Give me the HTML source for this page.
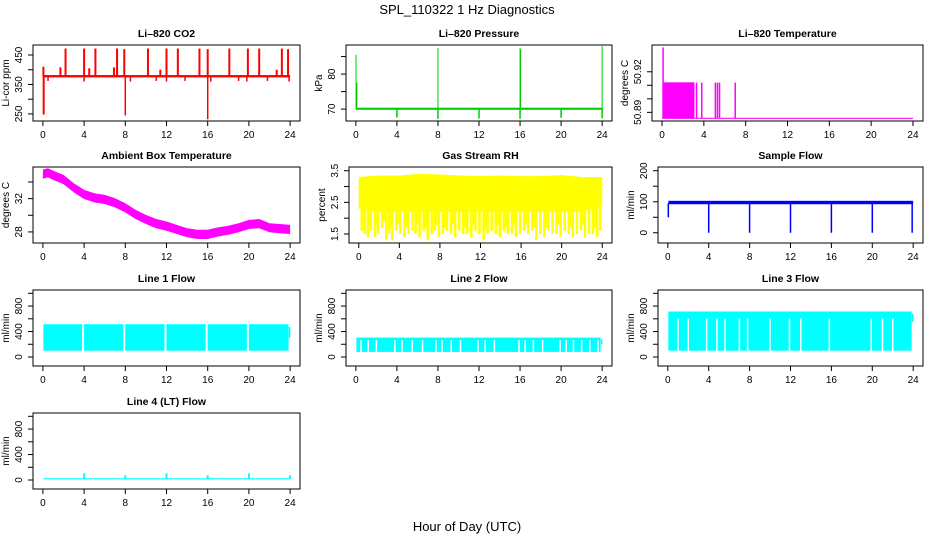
<!DOCTYPE html>
<html><head><meta charset="utf-8"><style>
html,body{margin:0;padding:0;background:#fff;}
svg{display:block;font-family:"Liberation Sans",Arial,sans-serif;}
</style></head><body>
<svg id="fig" width="936" height="540" viewBox="0 0 936 540" xmlns="http://www.w3.org/2000/svg">
<rect x="0" y="0" width="936" height="540" fill="#fff"/>
<text x="467" y="14" font-size="13" text-anchor="middle">SPL_110322  1 Hz Diagnostics</text>
<text x="467" y="531" font-size="13" text-anchor="middle">Hour of Day (UTC)</text>
</svg>
<script>
const NS="http://www.w3.org/2000/svg";
const svg=document.getElementById('fig');
const xTicks=[0,4,8,12,16,20,24];
// CO2
const co2BaseHours=[0,24];
const co2BaseValues=[378,378];
const co2SpikeHours=[0.05,1.7,2.2,4.0,4.5,5.1,6.9,7.2,7.9,10.2,11.4,12.0,13.1,15.2,16.0,18.1,19.9,21.0,22.7,23.2,23.8];
const co2SpikeValues=[410,408,472,472,405,472,408,472,470,472,400,472,472,472,470,472,472,472,400,472,470];
const co2DipHours=[0.05,0.1,0.5,4.0,8.0,8.5,11.0,12.0,13.8,16.0,16.3,19.0,19.8,21.8,23.9];
const co2DipValues=[248,248,362,360,245,360,362,360,362,232,360,362,360,362,360];
// Pressure
const presBaseHours=[0,24];
const presBaseValues=[70.1,70.1];
const presSpikeHours=[0.02,0.1,8.0,16.0,16.05,24.0];
const presSpikeValues=[85.5,77.5,87.5,87.5,87,88];
const presDipHours=[4,8,12,16,20,24];
const presDipValues=[67.6,67.2,67.3,67.2,67.5,67.4];
// Li-820 temperature
const tempBaseHours=[0,24];
const tempBaseValues=[50.8856,50.8856];
const tempBlockHours=[0.1,3.1];
const tempBlockValue=[50.9122];
const tempBarHours=[0.1,3.3,3.8,5.1,5.3,5.5,7.0];
const tempBarValues=[50.938,50.912,50.912,50.912,50.912,50.912,50.912];
// Ambient
const ambHours=[0,0.5,1,2,3,4,5,6,7,8,9,10,11,12,13,14,15,16,17,18,19,20,21,22,23,24];
const ambValues=[34.95,35.1,34.8,34.3,33.3,32.5,32.1,31.9,31.5,30.9,30.1,29.5,29.0,28.7,28.3,27.9,27.7,27.7,28.0,28.2,28.5,28.9,29.0,28.5,28.4,28.3];
const ambSpread=[0.55];
// RH
const rhHours=[0,2,4,6,8,10,12,14,16,18,20,22,24];
const rhUpper=[3.3,3.35,3.35,3.4,3.38,3.35,3.33,3.35,3.33,3.33,3.36,3.3,3.3];
const rhDense=[2.3,2.2,2.2,2.2,2.2,2.2,2.2,2.2,2.2,2.2,2.2,2.2,2.4];
const rhLowHours=[0.3,0.45,0.6,0.9,1.05,1.2,1.6,1.75,1.9,2.3,2.5,2.7,3.0,3.15,3.3,3.7,3.9,4.1,4.5,4.7,4.9,5.3,5.6,5.8,6.0,6.4,6.6,6.8,7.2,7.5,7.7,7.9,8.3,8.5,8.7,9.1,9.3,9.5,9.9,10.3,10.5,10.7,11.1,11.3,11.5,11.9,12.3,12.5,12.7,13.1,13.5,13.7,13.9,14.3,14.5,14.7,15.1,15.3,15.5,15.9,16.3,16.5,16.7,17.1,17.3,17.5,17.9,18.3,18.5,18.7,19.1,19.5,19.7,19.9,20.3,20.7,20.9,21.1,21.5,21.9,22.1,22.3,22.7,23.1,23.3,23.5,23.8];
const rhLowValues=[1.6,1.8,1.5,1.4,1.7,1.6,1.4,1.8,1.5,1.7,1.9,1.3,1.5,1.7,1.3,1.6,1.8,1.5,1.4,1.7,1.5,1.6,1.5,1.8,1.4,1.6,1.7,1.3,1.5,1.6,1.8,1.4,1.5,1.7,1.6,1.5,1.8,1.4,1.6,1.5,1.7,1.5,1.4,1.8,1.6,1.5,1.3,1.7,1.5,1.6,1.5,1.8,1.4,1.6,1.7,1.5,1.5,1.8,1.4,1.5,1.6,1.8,1.5,1.6,1.7,1.3,1.5,1.4,1.7,1.6,1.5,1.5,1.8,1.4,1.6,1.5,1.7,1.4,1.5,1.6,1.8,1.4,1.5,1.5,1.7,1.4,1.6];
// Sample flow
const sfHours=[0.05,24];
const sfLower=[92,92];
const sfUpper=[103,103];
const sfDipHours=[0.05,4,8,12,16,20,23.9];
const sfDipValues=[50,0,0,0,0,0,0];
// Line flows
const l1Range=[0.05,23.85];
const l1Lower=[100];
const l1Upper=[515];
const l1GapHours=[3.9,7.9,11.9,15.9,19.9];
const l2Range=[0.05,23.85];
const l2Lower=[80];
const l2Upper=[305];
const l2GapHours=[0.5,1.2,2.0,3.8,4.5,5.5,6.5,7.8,8.4,9.3,10.2,11.9,12.6,13.5,15.9,16.5,17.3,18.2,19.9,20.5,21.2,22.0,22.8,23.6];
const l3Range=[0.05,23.85];
const l3Lower=[100];
const l3Upper=[715];
const l3GapHours=[1.0,2.0,3.8,4.8,5.6,7.0,7.8,10.0,11.9,13.0,15.8,19.9,21.0,22.0];
const l4Range=[0.05,24];
const l4Lower=[10];
const l4Upper=[28];
const l4SpikeHours=[4,8,12,16,20,24];
const l4SpikeValues=[105,75,105,75,105,75];

function add(parent,tag,attrs,name,text){
  const el=document.createElementNS(NS,tag);
  for(const k in attrs) el.setAttribute(k,attrs[k]);
  
  
  if(text!==undefined) el.textContent=text;
  parent.appendChild(el);
  return el;
}
function panel(o){
  const g=add(svg,'g',{},o.name);
  const L=o.x0,R=o.x1,T=o.y0,B=o.y0+76;
  const span=(R-L)/1.08;
  const sx=h=>L+0.04*span+h/24*span;
  const sy=v=>B-(v-o.ymin)/(o.ymax-o.ymin)*(B-T);
  const plot=add(g,'g',{},'plot-area');
  add(g,'text',{x:(L+R)/2,y:T-8,'font-size':10.5,'font-weight':'bold','text-anchor':'middle'},'panel-title',o.title);
  add(g,'rect',{x:L,y:T,width:R-L,height:B-T,fill:'none',stroke:'#000','stroke-width':1},'plot-box');
  add(g,'line',{x1:sx(0),x2:sx(24),y1:B,y2:B,stroke:'#000'},'x-axis-line');
  xTicks.forEach(t=>{
    add(g,'line',{x1:sx(t),x2:sx(t),y1:B,y2:B+5,stroke:'#000'},'x-tick');
    add(g,'text',{x:sx(t),y:B+17,'font-size':10,'text-anchor':'middle'},'x-tick-label',String(t));
  });
  add(g,'line',{x1:L,x2:L,y1:sy(o.yt[0]),y2:sy(o.yt[o.yt.length-1]),stroke:'#000'},'y-axis-line');
  o.yt.forEach(t=>{
    add(g,'line',{x1:L-5,x2:L,y1:sy(t),y2:sy(t),stroke:'#000'},'y-tick');
  });
  o.yl.forEach((t,i)=>{
    const y=sy(t);
    add(g,'text',{x:L-11,y:y,'font-size':10,'text-anchor':'middle',transform:`rotate(-90 ${L-11} ${y})`},'y-tick-label',o.ylt[i]);
  });
  const yc=(T+B)/2, xl=L-24;
  add(g,'text',{x:xl,y:yc,'font-size':10,'text-anchor':'middle',transform:`rotate(-90 ${xl} ${yc})`},'y-axis-title',o.ylab);
  return {g:plot,sx,sy};
}
function vbar(p,h,v1,v2,c,w,name){
  const x=p.sx(h);const a=p.sy(v1),b=p.sy(v2);
  add(p.g,'rect',{x:x-w/2,y:Math.min(a,b),width:w,height:Math.max(1,Math.abs(a-b)),fill:c},name);
}
function band(p,h1,h2,lo,hi,c,name){
  const a=p.sy(lo),b=p.sy(hi);
  add(p.g,'rect',{x:p.sx(h1),y:Math.min(a,b),width:p.sx(h2)-p.sx(h1),height:Math.abs(a-b),fill:c},name);
}
function gaps(p,list,lo,hi,w,name){
  list.forEach(h=>vbar(p,h,lo-5,hi,'#fff',w,name));
}

// Row 1
let p=panel({name:'co2-panel',title:'Li\u2013820 CO2',ylab:'Li-cor ppm',x0:33,x1:300,y0:45,ymin:226,ymax:484,yt:[250,300,350,400,450],yl:[250,350,450],ylt:['250','350','450']});
band(p,co2BaseHours[0],co2BaseHours[1],co2BaseValues[0]-4,co2BaseValues[1]+4,'#f00','co2-baseline');
co2SpikeHours.forEach((h,i)=>vbar(p,h,co2BaseValues[0],co2SpikeValues[i],'#f00',2,'co2-spike'));
co2DipHours.forEach((h,i)=>vbar(p,h,co2BaseValues[0],co2DipValues[i],'#f00',1.5,'co2-dip'));

p=panel({name:'pressure-panel',title:'Li\u2013820 Pressure',ylab:'kPa',x0:346,x1:612,y0:45,ymin:66.6,ymax:88.3,yt:[70,75,80,85],yl:[70,80],ylt:['70','80']});
band(p,presBaseHours[0],presBaseHours[1],presBaseValues[0]-0.3,presBaseValues[1]+0.3,'#00cd00','pressure-baseline');
presSpikeHours.forEach((h,i)=>vbar(p,h,presBaseValues[0],presSpikeValues[i],'#00cd00',1,'pressure-spike'));
presDipHours.forEach((h,i)=>vbar(p,h,presBaseValues[0],presDipValues[i],'#00cd00',1.5,'pressure-dip'));

p=panel({name:'li820-temperature-panel',title:'Li\u2013820 Temperature',ylab:'degrees C',x0:652,x1:923,y0:45,ymin:50.8836,ymax:50.9398,yt:[50.89,50.90,50.91,50.92],yl:[50.89,50.92],ylt:['50.89','50.92']});
band(p,tempBaseHours[0],tempBaseHours[1],tempBaseValues[0]-0.0004,tempBaseValues[1]+0.0004,'#f0f','temperature-baseline');
band(p,tempBlockHours[0],tempBlockHours[1],tempBaseValues[0],tempBlockValue[0],'#f0f','temperature-block');
tempBarHours.forEach((h,i)=>vbar(p,h,tempBaseValues[0],tempBarValues[i],'#f0f',1.5,'temperature-bar'));

// Row 2
p=panel({name:'ambient-temperature-panel',title:'Ambient Box Temperature',ylab:'degrees C',x0:33,x1:300,y0:167,ymin:26.67,ymax:35.8,yt:[28,30,32,34],yl:[28,32],ylt:['28','32']});
{
  const up=ambHours.map((h,i)=>`${p.sx(h).toFixed(1)},${p.sy(ambValues[i]+ambSpread[0]).toFixed(1)}`);
  const dn=ambHours.map((h,i)=>`${p.sx(h).toFixed(1)},${p.sy(ambValues[i]-ambSpread[0]).toFixed(1)}`).reverse();
  add(p.g,'polygon',{points:up.concat(dn).join(' '),fill:'#f0f'},'ambient-temperature-band');
}
p=panel({name:'rh-panel',title:'Gas Stream RH',ylab:'percent',x0:349,x1:612,y0:167,ymin:1.216,ymax:3.617,yt:[1.5,2,2.5,3,3.5],yl:[1.5,2.5,3.5],ylt:['1.5','2.5','3.5']});
{
  const up=rhHours.map((h,i)=>`${p.sx(h).toFixed(1)},${p.sy(rhUpper[i]).toFixed(1)}`);
  const dn=rhHours.map((h,i)=>`${p.sx(h).toFixed(1)},${p.sy(rhDense[i]).toFixed(1)}`).reverse();
  add(p.g,'polygon',{points:up.concat(dn).join(' '),fill:'#ff0'},'rh-band');
  rhLowHours.forEach((h,i)=>vbar(p,h,2.4,rhLowValues[i],'#ff0',2.5,'rh-low-spike'));
}
p=panel({name:'sample-flow-panel',title:'Sample Flow',ylab:'ml/min',x0:658,x1:923,y0:167,ymin:-33,ymax:212,yt:[0,50,100,150,200],yl:[0,100,200],ylt:['0','100','200']});
band(p,sfHours[0],sfHours[1],sfLower[0],sfUpper[1],'#00f','sample-flow-band');
sfDipHours.forEach((h,i)=>vbar(p,h,95,sfDipValues[i],'#00f',1.5,'sample-flow-dip'));

// Row 3
const flowAxis={ymin:-141,ymax:1052,yt:[0,200,400,600,800,1000],yl:[0,400,800],ylt:['0','400','800'],ylab:'ml/min'};
p=panel(Object.assign({name:'line1-flow-panel',title:'Line 1 Flow',x0:33,x1:300,y0:290},flowAxis));
band(p,l1Range[0],l1Range[1],l1Lower[0],l1Upper[0],'#0ff','line1-flow-band');
vbar(p,23.95,300,470,'#0ff',1.5,'line1-flow-end');
gaps(p,l1GapHours,l1Lower[0],l1Upper[0]+5,2,'line1-flow-gap');
p=panel(Object.assign({name:'line2-flow-panel',title:'Line 2 Flow',x0:346,x1:612,y0:290},flowAxis));
band(p,l2Range[0],l2Range[1],l2Lower[0],l2Upper[0],'#0ff','line2-flow-band');
vbar(p,23.95,200,280,'#0ff',1.5,'line2-flow-end');
gaps(p,l2GapHours,l2Lower[0],l2Upper[0]-40,1.5,'line2-flow-gap');
p=panel(Object.assign({name:'line3-flow-panel',title:'Line 3 Flow',x0:658,x1:923,y0:290},flowAxis));
band(p,l3Range[0],l3Range[1],l3Lower[0],l3Upper[0],'#0ff','line3-flow-band');
vbar(p,23.95,550,680,'#0ff',1.5,'line3-flow-end');
gaps(p,l3GapHours,l3Lower[0],l3Upper[0]-110,1.5,'line3-flow-gap');

// Row 4
p=panel(Object.assign({name:'line4-flow-panel',title:'Line 4 (LT) Flow',x0:33,x1:300,y0:413},flowAxis));
band(p,l4Range[0],l4Range[1],l4Lower[0],l4Upper[0],'#0ff','line4-flow-band');
l4SpikeHours.forEach((h,i)=>vbar(p,h,20,l4SpikeValues[i],'#0ff',2,'line4-flow-spike'));
</script>
</body></html>
